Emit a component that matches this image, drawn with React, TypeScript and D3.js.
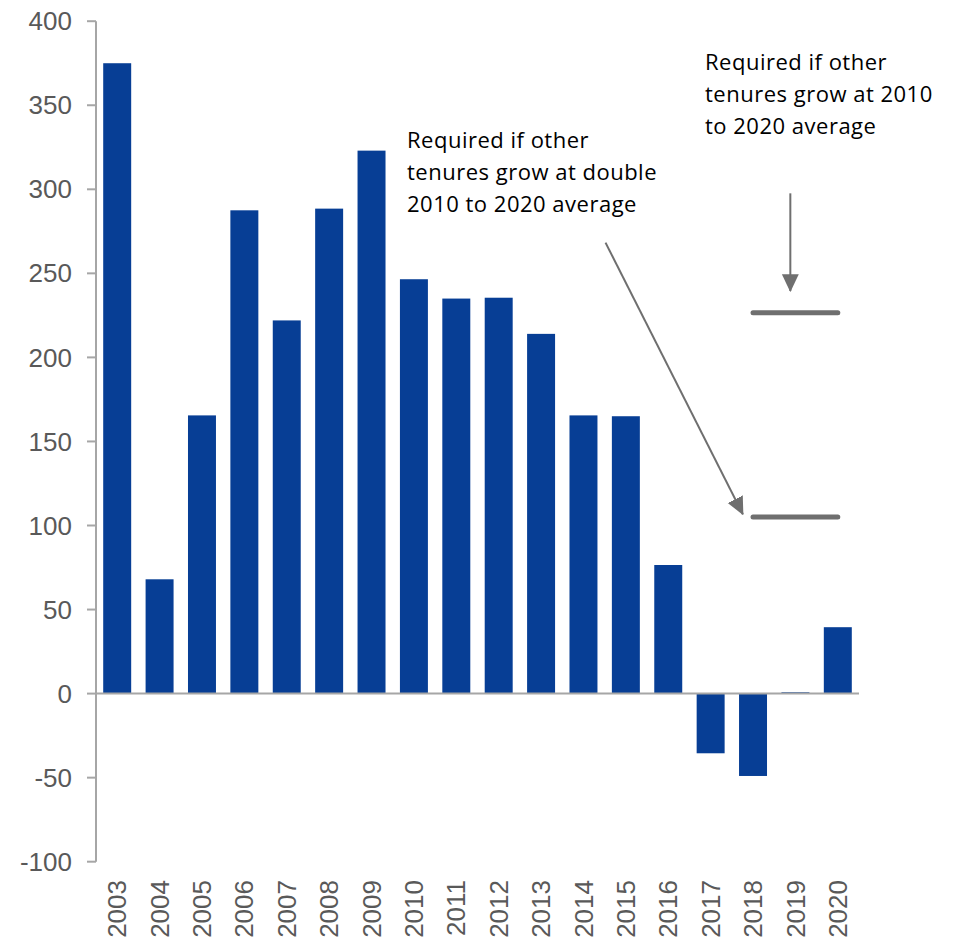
import { useEffect, useRef } from "react";
import * as d3 from "d3";

const years = ["2003", "2004", "2005", "2006", "2007", "2008", "2009", "2010", "2011", "2012", "2013", "2014", "2015", "2016", "2017", "2018", "2019", "2020"];
const values = [375, 68, 165.5, 287.5, 222, 288.5, 323, 246.5, 235, 235.5, 214, 165.5, 165, 76.5, -35.5, -49, 0.8, 39.5];
const yTicks = [-100, -50, 0, 50, 100, 150, 200, 250, 300, 350, 400];

// scenario levels, drawn across 2018..2020
const scenarioLevels = [226.5, 105];
const scenarioSpan = ["2018", "2020"];

const noteDouble = ["Required if other", "tenures grow at double", "2010 to 2020 average"];
const noteAverage = ["Required if other", "tenures grow at 2010", "to 2020 average"];

export default function App() {
  const ref = useRef<SVGSVGElement>(null);

  useEffect(() => {
    const el = ref.current;
    if (!el) return;
    const W = 955, H = 939;
    const svg = d3.select(el).attr("width", W).attr("height", H).attr("viewBox", `0 0 ${W} ${H}`);
    svg.selectAll("*").remove();

    const axisX = 96, right = 859;
    const y = d3.scaleLinear().domain([-100, 400]).range([861.7, 21.2]);
    const x = d3.scaleBand<string>().domain(years).range([axisX, right]).paddingInner(0.34).paddingOuter(0.17);
    // continuous position by year index, for annotations
    const xi = (i: number) => (x(years[0]) ?? 0) + x.bandwidth() / 2 + i * x.step();
    const grey = "#6f6f6f";
    const axisGrey = "#a6a6a6";

    // bars
    svg.append("g").selectAll("rect").data(values).join("rect")
      .attr("x", (_, i) => x(years[i]) ?? 0)
      .attr("y", (d) => y(Math.max(0, d)))
      .attr("width", x.bandwidth())
      .attr("height", (d) => Math.abs(y(d) - y(0)))
      .attr("fill", "#073e95");

    // y axis
    const ga = svg.append("g");
    ga.append("line").attr("x1", axisX).attr("x2", axisX).attr("y1", y(400)).attr("y2", y(-100))
      .attr("stroke", axisGrey).attr("stroke-width", 2);
    ga.selectAll("line.tick").data(yTicks).join("line").attr("class", "tick")
      .attr("x1", axisX - 9).attr("x2", axisX).attr("y1", (d) => y(d)).attr("y2", (d) => y(d))
      .attr("stroke", axisGrey).attr("stroke-width", 2);
    ga.selectAll("text").data(yTicks).join("text")
      .attr("x", 72).attr("y", (d) => y(d)).attr("dy", "0.35em").attr("text-anchor", "end")
      .attr("fill", "#595959").attr("font-size", 26).attr("font-family", "'Liberation Sans', Arial, sans-serif")
      .text((d) => d);

    // zero line
    svg.append("line").attr("x1", axisX).attr("x2", right).attr("y1", y(0)).attr("y2", y(0))
      .attr("stroke", axisGrey).attr("stroke-width", 2);

    // year labels
    svg.append("g").selectAll("text").data(years).join("text")
      .attr("transform", (d) => `translate(${(x(d) ?? 0) + x.bandwidth() / 2},880) rotate(-90)`)
      .attr("text-anchor", "end").attr("dy", "0.35em")
      .attr("fill", "#595959").attr("font-size", 26).attr("font-family", "'Liberation Sans', Arial, sans-serif")
      .text((d) => d);

    // arrowhead
    svg.append("defs").append("marker").attr("id", "head")
      .attr("markerUnits", "userSpaceOnUse").attr("markerWidth", 18).attr("markerHeight", 18)
      .attr("viewBox", "0 -8 16 16").attr("refX", 15).attr("refY", 0).attr("orient", "auto")
      .append("path").attr("d", "M0,-7.5L16,0L0,7.5Z").attr("fill", grey);

    // scenario lines
    const x0 = x(scenarioSpan[0])! + x.bandwidth() / 2, x1 = x(scenarioSpan[1])! + x.bandwidth() / 2;
    svg.append("g").selectAll("line").data(scenarioLevels).join("line")
      .attr("x1", x0).attr("x2", x1).attr("y1", (d) => y(d)).attr("y2", (d) => y(d))
      .attr("stroke", grey).attr("stroke-width", 5).attr("stroke-linecap", "round");

    // arrows
    svg.append("line").attr("x1", xi(15.88)).attr("x2", xi(15.88)).attr("y1", y(297.6)).attr("y2", y(239.5))
      .attr("stroke", grey).attr("stroke-width", 2).attr("marker-end", "url(#head)");
    svg.append("line").attr("x1", xi(11.52)).attr("y1", y(268.3)).attr("x2", xi(14.76)).attr("y2", y(106.7))
      .attr("stroke", grey).attr("stroke-width", 2).attr("marker-end", "url(#head)");

    // notes
    const note = (lines: string[], px: number, py: number) => {
      const t = svg.append("text").attr("x", px).attr("y", py)
        .attr("fill", "#000").attr("font-size", 22).attr("letter-spacing", 0.5)
        .attr("font-family", "'Open Sans', sans-serif");
      lines.forEach((s, i) => t.append("tspan").attr("x", px).attr("y", py + i * 32).text(s));
    };
    note(noteDouble, 407, 148);
    note(noteAverage, 705, 70);
  }, []);

  return <svg ref={ref} style={{ position: "absolute", left: 0, top: 0 }} role="img" aria-label="Bar chart 2003-2020" />;
}
